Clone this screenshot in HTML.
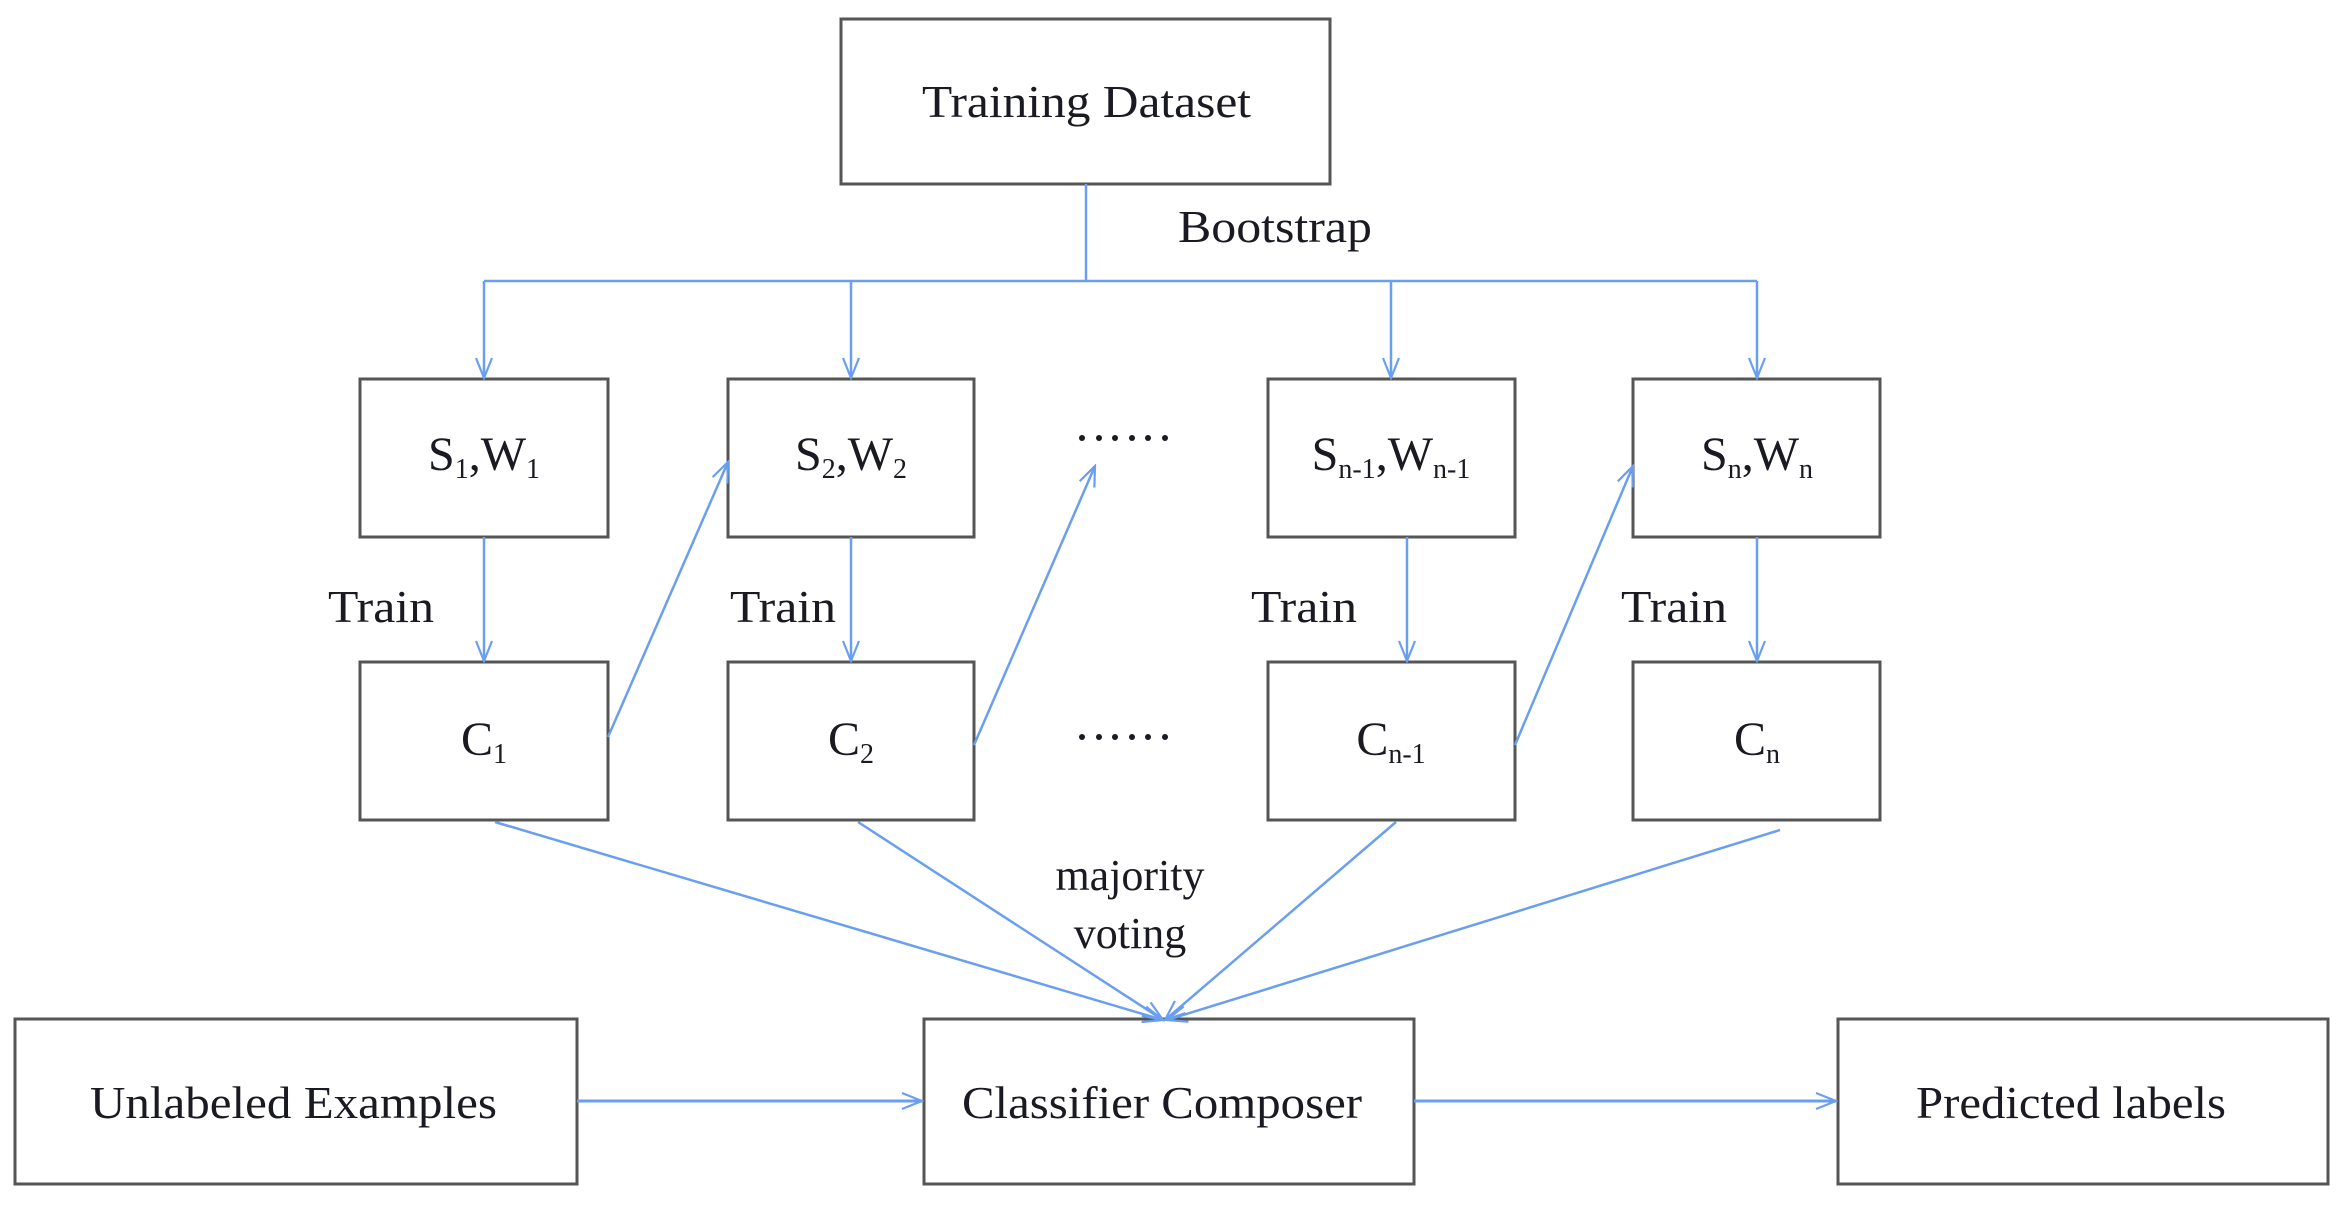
<!DOCTYPE html>
<html><head><meta charset="utf-8"><style>html,body{margin:0;padding:0;background:#fff}svg{display:block}</style></head>
<body>
<svg width="2339" height="1211" viewBox="0 0 2339 1211" xmlns="http://www.w3.org/2000/svg" font-family="'Liberation Serif', serif" fill="#1a1a22">
<defs>
<marker id="a" markerWidth="24" markerHeight="24" refX="22" refY="12" orient="auto" markerUnits="userSpaceOnUse">
<path d="M2,4 L22,12 L2,20" fill="none" stroke="#6a9ff0" stroke-width="2.2"/>
</marker>
</defs>
<g fill="none" stroke="#555" stroke-width="3">
<rect x="841" y="19" width="489" height="165"/>
<rect x="360" y="379" width="248" height="158"/>
<rect x="728" y="379" width="246" height="158"/>
<rect x="1268" y="379" width="247" height="158"/>
<rect x="1633" y="379" width="247" height="158"/>
<rect x="360" y="662" width="248" height="158"/>
<rect x="728" y="662" width="246" height="158"/>
<rect x="1268" y="662" width="247" height="158"/>
<rect x="1633" y="662" width="247" height="158"/>
<rect x="15" y="1019" width="562" height="165"/>
<rect x="924" y="1019" width="490" height="165"/>
<rect x="1838" y="1019" width="490" height="165"/>
</g>
<g fill="none" stroke="#6a9ff0" stroke-width="2.5">
<path d="M1086,184 V281 M484,281 H1757"/>
<path d="M484,281 V378" marker-end="url(#a)"/>
<path d="M851,281 V378" marker-end="url(#a)"/>
<path d="M1391,281 V378" marker-end="url(#a)"/>
<path d="M1757,281 V378" marker-end="url(#a)"/>
<path d="M484,537 V661" marker-end="url(#a)"/>
<path d="M851,537 V661" marker-end="url(#a)"/>
<path d="M1407,537 V661" marker-end="url(#a)"/>
<path d="M1757,537 V661" marker-end="url(#a)"/>
<path d="M608,737 L728,462" marker-end="url(#a)"/>
<path d="M974,745 L1095,466" marker-end="url(#a)"/>
<path d="M1515,745 L1633,466" marker-end="url(#a)"/>
<path d="M495,822 L1163,1020" marker-end="url(#a)"/>
<path d="M858,822 L1163,1020" marker-end="url(#a)"/>
<path d="M1396,822 L1165,1020" marker-end="url(#a)"/>
<path d="M1780,830 L1167,1020" marker-end="url(#a)"/>
<path d="M577,1101 H922" marker-end="url(#a)" stroke-width="3"/>
<path d="M1414,1101 H1836" marker-end="url(#a)" stroke-width="3"/>
</g>
<g fill="#1a1a22">
<circle cx="1082" cy="438" r="3"/><circle cx="1099" cy="438" r="3"/><circle cx="1115" cy="438" r="3"/><circle cx="1132" cy="438" r="3"/><circle cx="1148" cy="438" r="3"/><circle cx="1165" cy="438" r="3"/>
<circle cx="1082" cy="737" r="3"/><circle cx="1099" cy="737" r="3"/><circle cx="1115" cy="737" r="3"/><circle cx="1132" cy="737" r="3"/><circle cx="1148" cy="737" r="3"/><circle cx="1165" cy="737" r="3"/>
</g>
<g font-size="46">
<text x="922" y="117" textLength="329" lengthAdjust="spacingAndGlyphs">Training Dataset</text>
<text x="1178" y="242" textLength="194" lengthAdjust="spacingAndGlyphs">Bootstrap</text>
<text x="328" y="622" textLength="106" lengthAdjust="spacingAndGlyphs">Train</text>
<text x="730" y="622" textLength="106" lengthAdjust="spacingAndGlyphs">Train</text>
<text x="1251" y="622" textLength="106" lengthAdjust="spacingAndGlyphs">Train</text>
<text x="1621" y="622" textLength="106" lengthAdjust="spacingAndGlyphs">Train</text>
<text x="1130" y="890" text-anchor="middle" font-size="44">majority</text>
<text x="1130" y="948" text-anchor="middle" font-size="44">voting</text>
<text x="90" y="1118" textLength="407" lengthAdjust="spacingAndGlyphs">Unlabeled Examples</text>
<text x="962" y="1118" textLength="400" lengthAdjust="spacingAndGlyphs">Classifier Composer</text>
<text x="1916" y="1118" textLength="310" lengthAdjust="spacingAndGlyphs">Predicted labels</text>
</g>
<g font-size="48" text-anchor="middle">
<text x="484" y="470">S<tspan font-size="28" dy="8">1</tspan><tspan dy="-8">,W</tspan><tspan font-size="28" dy="8">1</tspan></text>
<text x="851" y="470">S<tspan font-size="28" dy="8">2</tspan><tspan dy="-8">,W</tspan><tspan font-size="28" dy="8">2</tspan></text>
<text x="1391" y="470">S<tspan font-size="28" dy="8">n-1</tspan><tspan dy="-8">,W</tspan><tspan font-size="28" dy="8">n-1</tspan></text>
<text x="1757" y="470">S<tspan font-size="28" dy="8">n</tspan><tspan dy="-8">,W</tspan><tspan font-size="28" dy="8">n</tspan></text>
<text x="484" y="755">C<tspan font-size="28" dy="8">1</tspan></text>
<text x="851" y="755">C<tspan font-size="28" dy="8">2</tspan></text>
<text x="1391" y="755">C<tspan font-size="28" dy="8">n-1</tspan></text>
<text x="1757" y="755">C<tspan font-size="28" dy="8">n</tspan></text>
</g>
</svg>
</body></html>
